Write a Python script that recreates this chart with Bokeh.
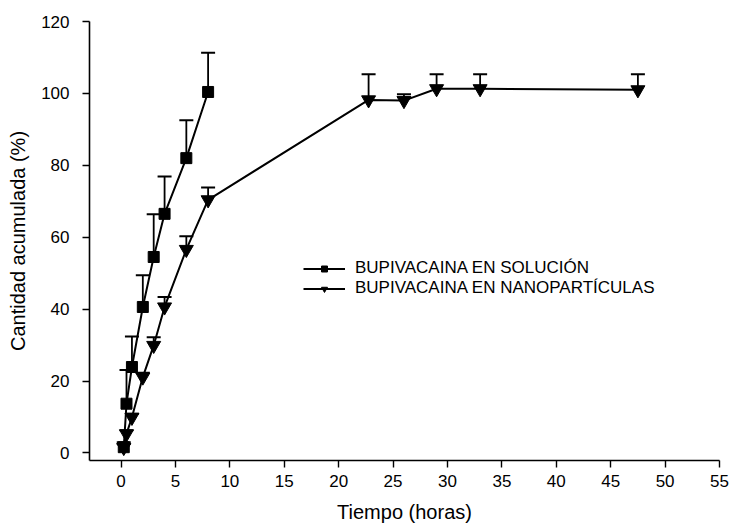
from bokeh.plotting import figure
from bokeh.models import (Whisker, TeeHead, ColumnDataSource, Legend, LegendItem,
                          FixedTicker, Range1d)
from bokeh.embed import file_html
from bokeh.resources import INLINE

# Data
sol_time = [0.25, 0.5, 1, 2, 3, 4, 6, 8]
sol_value = [1.6, 13.7, 23.9, 40.6, 54.5, 66.5, 82.0, 100.4]
sol_upper = [3.0, 23.1, 32.4, 49.4, 66.4, 76.9, 92.5, 111.3]

nano_time = [0.25, 0.5, 1, 2, 3, 4, 6, 8, 22.75, 26, 29, 33, 47.5]
nano_value = [1.5, 5.3, 9.9, 21.1, 29.9, 40.6, 56.6, 70.4, 98.2, 98.0, 101.3, 101.3, 101.0]
nano_upper = [2.5, 6.3, 10.9, 22.3, 32.2, 43.4, 60.3, 73.8, 105.3, 99.8, 105.3, 105.3, 105.3]

x_ticks = [0, 5, 10, 15, 20, 25, 30, 35, 40, 45, 50, 55]
y_ticks = [0, 20, 40, 60, 80, 100, 120]

label_sol = "BUPIVACAINA EN SOLUCIÓN"
label_nano = "BUPIVACAINA EN NANOPARTÍCULAS"
x_title = "Tiempo (horas)"
y_title = "Cantidad acumulada (%)"

FONT = "Liberation Sans"

src_sol = ColumnDataSource(dict(t=sol_time, v=sol_value, up=sol_upper))
src_nano = ColumnDataSource(dict(t=nano_time, v=nano_value, up=nano_upper))

p = figure(width=729, height=531, output_backend="svg", toolbar_location=None,
           x_range=Range1d(-2.9, 55), y_range=Range1d(-2.1, 120),
           min_border_left=89, min_border_right=10, min_border_top=21,
           min_border_bottom=71)
p.outline_line_color = None
p.xgrid.grid_line_color = None
p.ygrid.grid_line_color = None
p.background_fill_color = "white"
p.border_fill_color = "white"

for ax in (p.xaxis[0], p.yaxis[0]):
    ax.axis_line_width = 1.6
    ax.axis_line_color = "black"
    ax.major_tick_line_color = "black"
    ax.major_tick_line_width = 1.4
    ax.major_tick_in = 0
    ax.major_tick_out = 7
    ax.minor_tick_line_color = None
    ax.major_label_text_font = FONT
    ax.major_label_text_font_size = "17px"
    ax.major_label_text_color = "black"
    ax.axis_label_text_font = FONT
    ax.axis_label_text_font_size = "20px"
    ax.axis_label_text_font_style = "normal"
    ax.axis_label_text_color = "black"

p.xaxis[0].ticker = FixedTicker(ticks=x_ticks)
p.yaxis[0].ticker = FixedTicker(ticks=y_ticks)
p.xaxis[0].axis_label = x_title
p.yaxis[0].axis_label = y_title
p.xaxis[0].major_label_standoff = 7
p.xaxis[0].axis_label_standoff = 11
p.yaxis[0].major_label_standoff = 13
p.yaxis[0].axis_label_standoff = 9

l1 = p.line("t", "v", source=src_sol, line_color="black", line_width=2)
l2 = p.line("t", "v", source=src_nano, line_color="black", line_width=2)

w1 = Whisker(source=src_sol, base="t", lower="v", upper="up", dimension="height",
             line_color="black", line_width=1.8, lower_head=None,
             upper_head=TeeHead(size=14, line_color="black", line_width=2))
w2 = Whisker(source=src_nano, base="t", lower="v", upper="up", dimension="height",
             line_color="black", line_width=1.8, lower_head=None,
             upper_head=TeeHead(size=14, line_color="black", line_width=2))
p.add_layout(w1)
p.add_layout(w2)

s1 = p.scatter("t", "v", source=src_sol, marker="square", size=11,
               fill_color="black", line_color="black")
s2 = p.scatter("t", "v", source=src_nano, marker="inverted_triangle", size=14,
               fill_color="black", line_color="black")

legend = Legend(items=[LegendItem(label=label_sol, renderers=[l1, s1]),
                       LegendItem(label=label_nano, renderers=[l2, s2])],
                location=(214, 162), glyph_width=42, glyph_height=15,
                label_height=15, spacing=0, padding=0, margin=0,
                label_standoff=10, label_text_font=FONT,
                label_text_font_size="17px", label_text_color="black",
                border_line_color=None, background_fill_alpha=0)
p.add_layout(legend)

open("out.html", "w").write(file_html(p, INLINE))
